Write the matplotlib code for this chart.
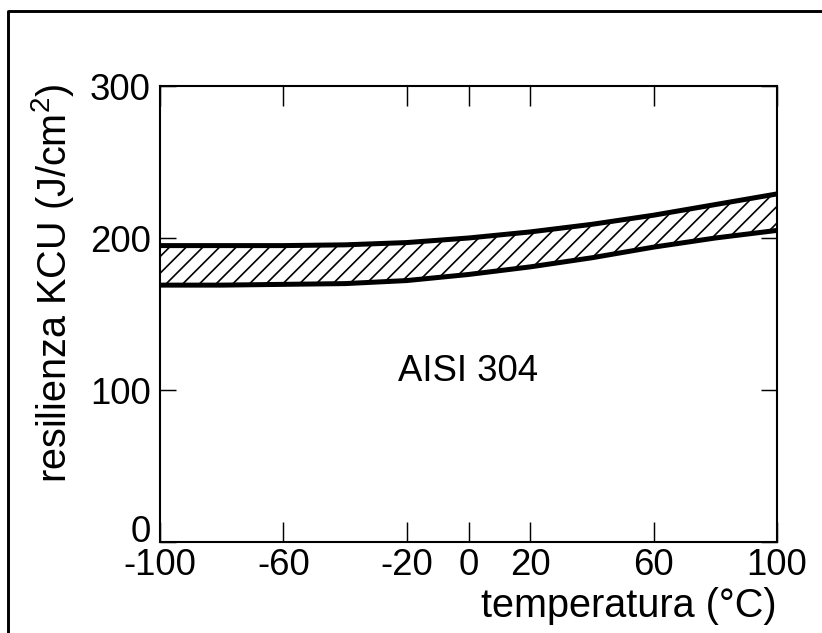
import matplotlib
matplotlib.use("Agg")
from matplotlib import pyplot as plt
from matplotlib.lines import Line2D

# data
temps = [-100, -80, -60, -40, -20, 0, 20, 40, 60, 80, 100]
upper = [195, 195, 195, 195.5, 197, 200, 204, 209, 215, 222, 229]
lower = [169, 169, 169.5, 170, 172, 176, 181, 187, 194, 200, 205]

xticks = [-100, -60, -20, 0, 20, 60, 100]
yticks = [0, 100, 200, 300]

plt.rcParams['font.family'] = ['Liberation Sans', 'DejaVu Sans']
plt.rcParams['mathtext.fontset'] = 'custom'
plt.rcParams['mathtext.rm'] = 'Liberation Sans'
plt.rcParams['axes.unicode_minus'] = False
plt.rcParams['hatch.linewidth'] = 0.8

W, H, DPI = 822, 633, 150
fig = plt.figure(figsize=(W / DPI, H / DPI), dpi=DPI)
ax = fig.add_axes([160 / W, 1 - 542 / H, 617 / W, 456 / H])

# hatched band between the two curves
ax.fill_between(temps, lower, upper, facecolor='white', edgecolor='black',
                hatch='///', linewidth=0)
ax.plot(temps, upper, color='black', linewidth=2.4, solid_capstyle='butt')
ax.plot(temps, lower, color='black', linewidth=2.4, solid_capstyle='butt')

ax.set_xlim(-100, 100)
ax.set_ylim(0, 300)
ax.set_xticks(xticks)
ax.set_yticks(yticks)
ax.tick_params(axis='x', direction='in', length=9.5, width=0.7, top=True,
               labelsize=17.5, pad=3)
ax.tick_params(axis='y', direction='in', length=7.5, width=0.7, right=True,
               labelsize=17.5, pad=4.5)
# the "0" on the y axis sits above the corner, clear of "-100"
ax.yaxis.get_major_ticks()[0].label1.set_verticalalignment('baseline')
for s in ax.spines.values():
    s.set_linewidth(1.0)

ax.text(0, 112, 'AISI 304', ha='center', va='center', fontsize=17.5)

ax.set_xlabel('temperatura (°C)', loc='right', fontsize=19, labelpad=2)
fig.text(52 / W, 1 - 283 / H, r'resilienza KCU (J/cm$^{\mathrm{2}}$)',
         rotation=90, ha='center', va='center', fontsize=19)

# outer frame (top and left edges only visible)
fig.add_artist(Line2D([8 / W, 8 / W, 1], [0, 1 - 11 / H, 1 - 11 / H],
                      color='black', linewidth=1.4, transform=fig.transFigure))

fig.savefig('out.png', dpi=DPI)
